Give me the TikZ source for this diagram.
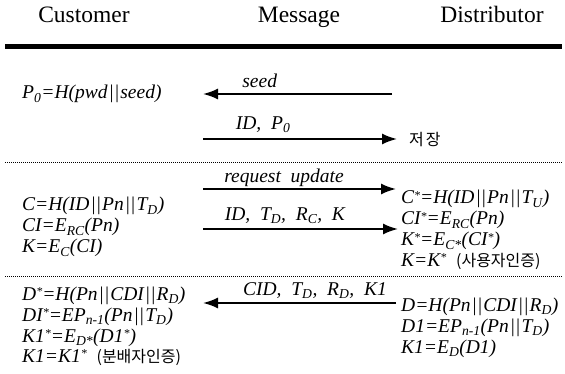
\documentclass[tikz,border=0pt]{standalone}
\usepackage{fontspec}
\setmainfont{Liberation Serif}
\newfontfamily\kr{Noto Sans CJK KR}
\usetikzlibrary{arrows.meta}

\newcommand{\lo}[1]{\textsubscript{#1}}
\newcommand{\sta}{\raisebox{0.45ex}{\fontsize{12}{12}\selectfont*}}
\newcommand{\bars}{\kern1pt||\kern1pt}

\begin{document}
\begin{tikzpicture}[x=1pt, y=-1pt,
    head/.style={anchor=base, font=\fontsize{23.5}{26}\selectfont},
    txt/.style={anchor=west, inner sep=0pt, text height=13pt, text depth=5pt,
                font=\fontsize{19.5}{22}\selectfont\itshape},
    lab/.style={inner sep=0pt, text height=14pt, text depth=4pt,
                font=\fontsize{19.5}{22}\selectfont\itshape},
    msg/.style={line width=1.8pt, -{Latex[length=15pt,width=11pt]}},
    sep/.style={line width=0.9pt, dash pattern=on 0.9pt off 1.1pt}]
    \useasboundingbox (0,0) rectangle (565,374);

    % header
    \node[head] (cust) at (84,23)  {Customer};
    \node[head] (mesg) at (299,23) {Message};
    \node[head] (dist) at (492,23) {Distributor};
    \draw[line width=5pt] (5,47) -- (562,47);

    % registration
    \node[txt] (p0) at (22,95) {P\lo{0}=H(pwd\bars seed)};
    \coordinate (s1a) at (392,94);
    \coordinate (s1b) at (203,94);
    \draw[msg] (s1a) -- (s1b) node[lab, above=2pt, pos=0.7] {seed};
    \coordinate (s2a) at (203,139);
    \coordinate (s2b) at (397,139);
    \draw[msg] (s2a) -- (s2b) node[lab, above=5pt, pos=0.31] {ID,\ \ P\lo{0}};
    \node[anchor=west, inner sep=0pt, font=\fontsize{16}{18}\selectfont\kr] (save) at (409,140) {저\kern2pt 장};
    \draw[sep] (5,162) -- (562,162);

    % user authentication
    \coordinate (s3a) at (203,189);
    \coordinate (s3b) at (396,189);
    \draw[msg] (s3a) -- (s3b) node[lab, above=2pt, pos=0.42] {request\ \ update};
    \coordinate (s4a) at (203,229);
    \coordinate (s4b) at (398,229);
    \draw[msg] (s4a) -- (s4b) node[lab, above=4pt, pos=0.42] {ID,\ \ T\lo{D},\ \ R\lo{C},\ \ K};
    \node[txt] (c)   at (22,207) {C=H(ID\bars Pn\bars T\lo{D})};
    \node[txt] (ci)  at (22,228) {CI=E\lo{RC}(Pn)};
    \node[txt] (k)   at (22,249) {K=E\lo{C}(CI)};
    \node[txt] (cs)  at (401,200) {C\sta=H(ID\bars Pn\bars T\lo{U})};
    \node[txt] (cis) at (401,221) {CI\sta=E\lo{RC}(Pn)};
    \node[txt] (ks)  at (401,242) {K\sta=E\lo{C*}(CI\sta)};
    \node[txt] (kk)  at (401,262) {K=K\sta\ \ {\upshape\fontsize{16}{18}\selectfont\kr(사용자인증)}};
    \draw[sep] (5,276) -- (562,276);

    % distributor authentication
    \coordinate (s5a) at (396,303);
    \coordinate (s5b) at (203,303);
    \draw[msg] (s5a) -- (s5b) node[lab, above=3pt, pos=0.42] {CID,\ \ T\lo{D},\ \ R\lo{D},\ \ K1};
    \node[txt] (ds)  at (22,296) {D\sta=H(Pn\bars CDI\bars R\lo{D})};
    \node[txt] (dis) at (22,317) {DI\sta=EP\lo{n-1}(Pn\bars T\lo{D})};
    \node[txt] (k1s) at (22,338) {K1\sta=E\lo{D*}(D1\sta)};
    \node[txt] (k1)  at (22,358) {K1=K1\sta\ \ {\upshape\fontsize{16}{18}\selectfont\kr(분배자인증)}};
    \node[txt] (d)   at (401,307) {D=H(Pn\bars CDI\bars R\lo{D})};
    \node[txt] (d1)  at (401,328) {D1=EP\lo{n-1}(Pn\bars T\lo{D})};
    \node[txt] (k1d) at (401,349) {K1=E\lo{D}(D1)};
\end{tikzpicture}
\end{document}
